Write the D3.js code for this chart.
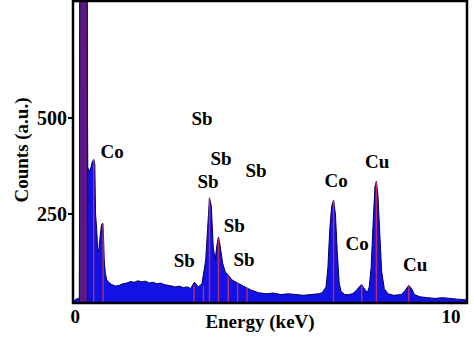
<!DOCTYPE html>
<html>
<head>
<meta charset="utf-8">
<script src="https://cdn.jsdelivr.net/npm/d3@7"></script>
<style>
  body { margin: 0; background: #fff; }
  text { font-family: "Liberation Serif", "Times New Roman", serif; font-weight: bold; fill: #000; }
</style>
</head>
<body>
<svg width="474" height="345"></svg>
<script>
// spectrum (keV, counts)
var energy = [-0.02, 0.05, 0.12, 0.14, 0.16, 0.33, 0.36, 0.40, 0.45, 0.48, 0.52, 0.55, 0.57, 0.60, 0.63, 0.66,
  0.70, 0.73, 0.76, 0.78, 0.80, 0.83, 0.87, 0.92, 1.0, 1.1, 1.2, 1.3, 1.4, 1.5, 1.6, 1.7, 1.8, 1.9, 2.0,
  2.1, 2.2, 2.3, 2.4, 2.5, 2.6, 2.7, 2.8, 2.9, 3.0, 3.1, 3.2, 3.3, 3.4, 3.5, 3.55, 3.6, 3.65, 3.7, 3.75,
  3.8, 3.84, 3.88, 3.95, 4.02, 4.1, 4.2, 4.35, 4.5, 4.7, 4.9, 5.1, 5.3, 5.5, 5.7, 5.9, 6.1, 6.3, 6.5,
  6.6, 6.7, 6.75, 6.8, 6.85, 6.9, 6.95, 7.0, 7.05, 7.1, 7.2, 7.3, 7.4, 7.5, 7.6, 7.65, 7.7, 7.8, 7.85,
  7.9, 7.95, 8.0, 8.04, 8.08, 8.13, 8.18, 8.25, 8.35, 8.5, 8.7, 8.8, 8.9, 8.98, 9.05, 9.2, 9.4, 9.6,
  9.8, 10.0, 10.2, 10.45];
var counts = [22, 28, 30, 30, 1400, 1400, 372, 360, 372, 385, 392, 380, 250, 210, 150, 160,
  200, 222, 226, 200, 130, 95, 78, 72, 66, 62, 64, 68, 70, 74, 72, 76, 73, 75, 70,
  72, 68, 70, 66, 64, 62, 60, 62, 58, 60, 56, 72, 60, 68, 130, 210, 292, 270, 164, 130,
  170, 190, 170, 122, 99, 91, 78, 70, 62, 52, 45, 42, 44, 40, 42, 40, 38, 40, 42,
  45, 60, 110, 210, 270, 286, 250, 150, 70, 48, 40, 40, 42, 50, 62, 66, 58, 45, 60,
  110, 220, 320, 335, 300, 200, 100, 55, 42, 38, 40, 50, 64, 55, 40, 34, 32, 30,
  32, 30, 28, 26];

// element marker lines (keV, height in counts)
var markerE = [0.52, 0.77, 3.19, 3.44, 3.6, 3.84, 4.1, 4.35, 4.6, 6.9, 7.65, 8.04, 8.9];
var markerH = [390, 224, 64, 64, 292, 188, 90, 70, 58, 286, 66, 335, 64];

// peak labels (text, keV, counts)
var labelText = ["Co", "Sb", "Sb", "Sb", "Sb", "Sb", "Sb", "Sb", "Co", "Cu", "Co", "Cu"];
var labelE = [1.01, 3.40, 3.91, 4.84, 3.56, 4.26, 2.93, 4.52, 6.97, 8.06, 7.53, 9.07];
var labelC = [396, 482, 378, 346, 318, 203, 112, 114, 320, 370, 156, 101];

var yTicks = [250, 500];
var xTicks = [0, 10];

var margin = { top: 1, right: 7, bottom: 42, left: 73 },
    width = 474 - margin.left - margin.right,
    height = 345 - margin.top - margin.bottom;

var svg = d3.select("svg");
var g = svg.append("g").attr("transform", "translate(" + margin.left + "," + margin.top + ")");

var x = d3.scaleLinear().domain([-0.03, 10.45]).range([0, width]);
var y = d3.scaleLinear().domain([18, 805]).range([height, 0]);

var data = energy.map(function (e, i) { return { e: e, c: counts[i] }; });

g.append("clipPath").attr("id", "clip")
  .append("rect").attr("width", width).attr("height", height);

var plot = g.append("g").attr("clip-path", "url(#clip)");

var area = d3.area()
  .x(function (d) { return x(d.e); })
  .y0(height)
  .y1(function (d) { return y(d.c); });

plot.append("path").datum(data)
  .attr("d", area)
  .attr("fill", "#1212e6")
  .attr("stroke", "#000060")
  .attr("stroke-width", 1);

// the big low energy peak shows up purple
plot.append("path").datum(data.filter(function (d) { return d.e >= 0.14 && d.e <= 0.36; }))
  .attr("d", area)
  .attr("fill", "#5a1888")
  .attr("stroke", "#2a0840")
  .attr("stroke-width", 1);

plot.selectAll(".marker").data(markerE)
  .enter().append("line")
  .attr("class", "marker")
  .attr("x1", function (d) { return x(d); })
  .attr("x2", function (d) { return x(d); })
  .attr("y1", height)
  .attr("y2", function (d, i) { return y(markerH[i]); })
  .attr("stroke", "#e0344e")
  .attr("stroke-opacity", 0.8)
  .attr("stroke-width", 1.4);

// frame
g.append("rect")
  .attr("width", width).attr("height", height)
  .attr("fill", "none")
  .attr("stroke", "#000")
  .attr("stroke-width", 2.5);

// y ticks
var yt = g.selectAll(".ytick").data(yTicks).enter().append("g")
  .attr("transform", function (d) { return "translate(0," + y(d) + ")"; });
yt.append("line").attr("x1", -5).attr("x2", 0).attr("stroke", "#000").attr("stroke-width", 2);
yt.append("text").attr("x", -6).attr("dy", "0.33em")
  .attr("text-anchor", "end").style("font-size", "20px")
  .text(function (d) { return d; });

// x tick labels
g.selectAll(".xtick").data(xTicks).enter().append("text")
  .attr("x", function (d) { return x(d) + 1; })
  .attr("y", height + 20)
  .attr("text-anchor", "middle").style("font-size", "19px")
  .text(function (d) { return d; });

// peak labels
g.selectAll(".lbl").data(labelText).enter().append("text")
  .attr("x", function (d, i) { return x(labelE[i]); })
  .attr("y", function (d, i) { return y(labelC[i]); })
  .attr("text-anchor", "middle").style("font-size", "19px")
  .text(function (d) { return d; });

// axis titles
svg.append("text")
  .attr("x", 260).attr("y", 328)
  .attr("text-anchor", "middle").style("font-size", "19px")
  .text("Energy (keV)");

svg.append("text")
  .attr("transform", "translate(28,150) rotate(-90)")
  .attr("text-anchor", "middle").style("font-size", "19px")
  .text("Counts (a.u.)");
</script>
</body>
</html>
